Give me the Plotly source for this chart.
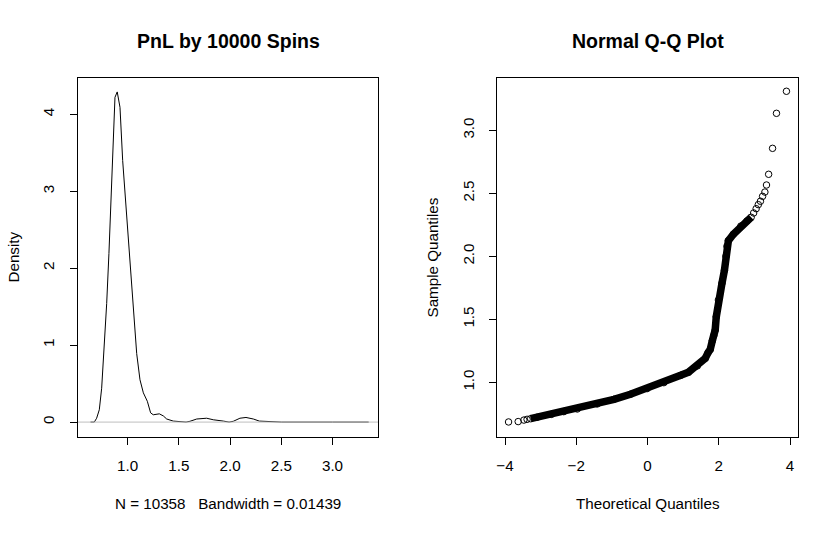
import plotly.graph_objects as go

# ---- Density panel data ----
dens_x = [0.637, 0.674, 0.697, 0.723, 0.746, 0.771, 0.795, 0.817, 0.837, 0.859, 0.876,
          0.898, 0.925, 0.951, 0.980, 1.006, 1.032, 1.062, 1.088, 1.120, 1.153, 1.192,
          1.224, 1.250, 1.280, 1.309, 1.348, 1.381, 1.445, 1.527, 1.570, 1.608, 1.674,
          1.771, 1.836, 1.934, 1.990, 2.031, 2.096, 2.155, 2.227, 2.285, 2.331, 2.500,
          3.000, 3.353]
dens_y = [0.0, 0.0, 0.05, 0.16, 0.44, 0.94, 1.54, 2.19, 2.97, 3.83, 4.22,
          4.29, 4.09, 3.40, 2.88, 2.41, 1.89, 1.33, 0.89, 0.55, 0.38, 0.27,
          0.12, 0.095, 0.10, 0.107, 0.08, 0.04, 0.013, 0.01, 0.0, 0.01, 0.04,
          0.05, 0.03, 0.013, 0.0, 0.01, 0.05, 0.06, 0.04, 0.013, 0.01, 0.0,
          0.0, 0.0]
dens_title = "PnL by 10000 Spins"
dens_xlab = "N = 10358   Bandwidth = 0.01439"
dens_ylab = "Density"
dens_xticks = [1.0, 1.5, 2.0, 2.5, 3.0]
dens_yticks = [0, 1, 2, 3, 4]

# ---- Q-Q panel data ----
qq_theoretical = [-3.90, -3.63, -3.47, -3.38, -3.28,
                  -3.10, -2.70, -2.35, -1.97, -1.41, -0.94, -0.48, -0.01, 0.46, 0.93,
                  1.15, 1.40, 1.62, 1.70, 1.76, 1.82, 1.86, 1.90, 1.93, 1.99, 2.09,
                  2.16, 2.20, 2.23, 2.27, 2.41, 2.62, 2.79, 2.91,
                  2.98, 3.05, 3.11, 3.17, 3.23, 3.295, 3.34, 3.40, 3.51, 3.62, 3.90]
qq_sample = [0.685, 0.688, 0.700, 0.706, 0.711,
             0.722, 0.745, 0.767, 0.788, 0.828, 0.865, 0.905, 0.950, 0.997, 1.055,
             1.080, 1.130, 1.190, 1.235, 1.260, 1.330, 1.370, 1.415, 1.520, 1.653, 1.786,
             1.890, 2.000, 2.080, 2.124, 2.175, 2.240, 2.280, 2.310,
             2.344, 2.378, 2.410, 2.437, 2.476, 2.510, 2.566, 2.651, 2.857, 3.135, 3.310]
qq_dense_first = 4   # first index of the heavily overlapping run
qq_dense_last = 33   # last index of the heavily overlapping run
qq_title = "Normal Q-Q Plot"
qq_xlab = "Theoretical Quantiles"
qq_ylab = "Sample Quantiles"
qq_xticks = [-4, -2, 0, 2, 4]
qq_yticks = [1.0, 1.5, 2.0, 2.5, 3.0]

W, H = 838, 534
FONT = "Arial, 'Liberation Sans', sans-serif"

fig = go.Figure()

fig.add_trace(go.Scatter(x=dens_x, y=dens_y, mode="lines",
                         line=dict(color="black", width=1),
                         xaxis="x", yaxis="y", showlegend=False))

fig.add_trace(go.Scatter(x=qq_theoretical[qq_dense_first:qq_dense_last + 1],
                         y=qq_sample[qq_dense_first:qq_dense_last + 1],
                         mode="lines", line=dict(color="black", width=7.5),
                         xaxis="x2", yaxis="y2", showlegend=False))
fig.add_trace(go.Scatter(x=qq_theoretical, y=qq_sample, mode="markers",
                         marker=dict(symbol="circle-open", size=6.5, color="black",
                                     line=dict(width=1, color="black")),
                         xaxis="x2", yaxis="y2", showlegend=False))

# grey zero line drawn over the density curve (like abline(h=0))
fig.add_shape(type="line", xref="x domain", yref="y", x0=0, x1=1, y0=0, y1=0,
              line=dict(color="#BEBEBE", width=1), layer="above")

ydom = [(H - 436.7) / H, (H - 78.3) / H]
axis_common = dict(showgrid=False, zeroline=False, showline=True, mirror=True,
                   linecolor="black", linewidth=1, ticks="outside", ticklen=7,
                   tickcolor="black", tickfont=dict(family=FONT, size=15.2, color="black"))

fig.update_layout(
    width=W, height=H, autosize=False,
    margin=dict(l=0, r=0, t=0, b=0),
    paper_bgcolor="white", plot_bgcolor="white",
    xaxis=dict(domain=[78 / W, 378 / W], range=[0.515, 3.444], tickvals=dens_xticks,
               tickformat=".1f", anchor="y", ticklabelstandoff=8, **axis_common),
    yaxis=dict(domain=ydom, range=[-0.19, 4.467], tickvals=dens_yticks,
               tickangle=-90, anchor="x", ticklabelstandoff=10, **axis_common),
    xaxis2=dict(domain=[497.3 / W, 797.7 / W], range=[-4.216, 4.216], tickvals=qq_xticks,
                anchor="y2", ticklabelstandoff=8, **axis_common),
    yaxis2=dict(domain=ydom, range=[0.568, 3.413], tickvals=qq_yticks, tickformat=".1f",
                tickangle=-90, anchor="x2", ticklabelstandoff=9, **axis_common),
)

ann_font = dict(family=FONT, size=15.2, color="black")
title_font = dict(family=FONT, size=19.5, color="black")
anns = [
    dict(text="<b>%s</b>" % dens_title, x=228 / W, y=(H - 40.7) / H, font=title_font),
    dict(text="<b>%s</b>" % qq_title, x=647.5 / W, y=(H - 40.7) / H, font=title_font),
    dict(text=dens_xlab, x=228 / W, y=(H - 503.5) / H, font=ann_font),
    dict(text=qq_xlab, x=647.5 / W, y=(H - 503.5) / H, font=ann_font),
    dict(text=dens_ylab, x=13 / W, y=(H - 257.5) / H, font=ann_font, textangle=-90),
    dict(text=qq_ylab, x=432 / W, y=(H - 257.5) / H, font=ann_font, textangle=-90),
]
for a in anns:
    fig.add_annotation(xref="paper", yref="paper", showarrow=False,
                       xanchor="center", yanchor="middle", **a)

fig.write_html("out.html", config={"displayModeBar": False},
               post_script="document.body.style.margin='0px';document.body.style.overflow='hidden';")
